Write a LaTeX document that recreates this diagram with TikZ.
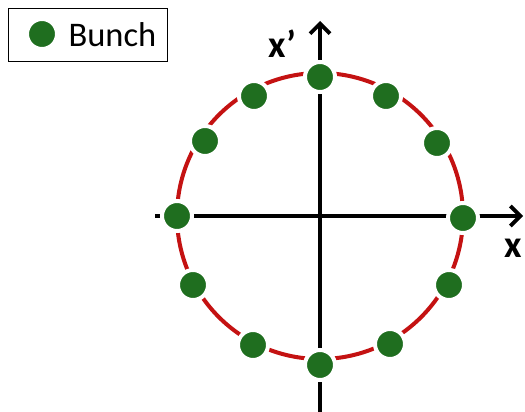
\documentclass[tikz,border=0pt]{standalone}
\usepackage{fontspec}
\setmainfont{Carlito}
\usetikzlibrary{arrows.meta, shadows}
\definecolor{bunchgreen}{HTML}{1F6E1F}
\definecolor{orbitred}{HTML}{C41212}

\begin{document}
\begin{tikzpicture}[
    x=1pt, y=-1pt,
    bunch/.style={circle, fill=bunchgreen, draw=white, line width=4pt,
                  minimum size=30pt, inner sep=0pt,
                  drop shadow={opacity=0.25, shadow xshift=0.8pt, shadow yshift=-1pt}},
    axis/.style={line width=3.8pt, -{Straight Barb[length=10pt, width=20pt, line width=3.8pt]}},
    label/.style={font=\fontsize{38}{42}\selectfont\bfseries}
  ]
    \useasboundingbox (0,0) rectangle (525,412);

    % axes
    \coordinate (o) at (320,216);
    \coordinate (xl) at (155,216);
    \coordinate (xr) at (523,216);
    \coordinate (yb) at (320,412);
    \coordinate (yt) at (320,21);
    \draw[axis] (xl) -- (xr);
    \draw[axis] (yb) -- (yt);
    \node[label] (xlab) at (513,248) {x};
    \node[label] (xplab) at (282,44) {x'};

    % orbit
    \draw[orbitred, line width=4pt] (o) circle[radius=143];

    % bunches around the orbit
    \foreach \i/\px/\py in {1/320/77, 2/386/96, 3/437/143, 4/463/218,
                            5/449/285, 6/390/344, 7/320/365, 8/253/345,
                            9/193/285, 10/177/216, 11/205/141, 12/254/96}
      \node[bunch] (b\i) at (\px,\py) {};

    % legend
    \node[draw, thin, minimum width=159pt, minimum height=53pt] (legend) at (87.5,34.5) {};
    \node[bunch] (lb) at (42,34) {};
    \node[font=\fontsize{34.5}{38}\selectfont, anchor=west] (ltext) at (65,35) {Bunch};
\end{tikzpicture}
\end{document}
